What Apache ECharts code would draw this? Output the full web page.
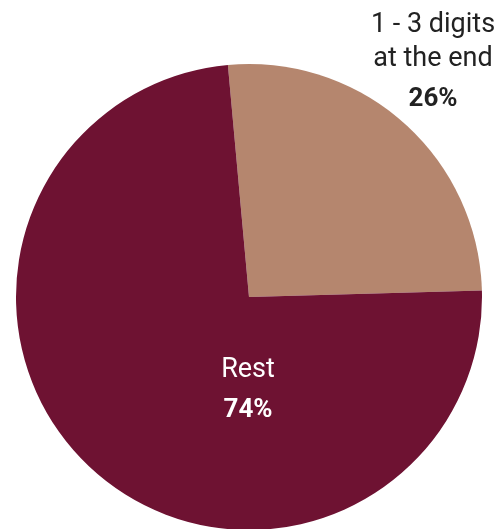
<!DOCTYPE html>
<html>
<head>
<meta charset="utf-8">
<script src="https://cdn.jsdelivr.net/npm/echarts@6/dist/echarts.min.js"></script>
<style>
  html, body { margin: 0; padding: 0; background: #fff; }
  #chart { width: 503px; height: 529px; }
</style>
</head>
<body>
<div id="chart"></div>
<script>
// Share of passwords by trailing digits
const categories = ['1 - 3 digits\nat the end', 'Rest'];
const shares = [26, 74];
const sliceColors = ['#B5866E', '#6E1232'];
const labelColors = ['#222222', '#ffffff'];
const labelSpots = [
  { x: 433, y: 65 },
  { x: 248, y: 393 }
];

const chart = echarts.init(document.getElementById('chart'));

const data = categories.map((name, i) => ({
  name: name,
  value: shares[i],
  itemStyle: { color: sliceColors[i] },
  label: { color: labelColors[i] }
}));

chart.setOption({
  animation: false,
  series: [{
    type: 'pie',
    center: [249, 297],
    radius: [0, 233],
    startAngle: 95.2,
    clockwise: true,
    data: data,
    itemStyle: { borderWidth: 0 },
    labelLine: { show: false },
    label: {
      show: true,
      position: 'outside',
      overflow: 'none',
      fontFamily: 'Roboto',
      formatter: p => '{n|' + p.name + '}\n{v|' + p.value + '%}',
      rich: {
        n: { fontSize: 27, lineHeight: 34, fontFamily: 'Roboto', align: 'center' },
        v: { fontSize: 26, lineHeight: 46, fontWeight: 'bold', fontFamily: 'Roboto', align: 'center' }
      }
    },
    labelLayout: function (params) {
      const spot = labelSpots[params.dataIndex];
      return { x: spot.x, y: spot.y, width: 200, align: 'center', verticalAlign: 'middle' };
    }
  }]
});
</script>
</body>
</html>
